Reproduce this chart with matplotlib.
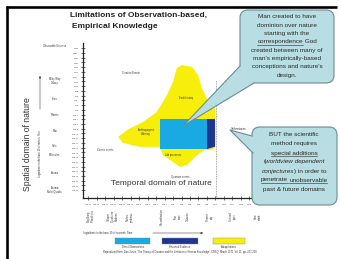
import numpy as np
import matplotlib
matplotlib.use("Agg")
import matplotlib.pyplot as plt
from matplotlib.patches import Polygon, Rectangle, FancyBboxPatch
from matplotlib.transforms import blended_transform_factory

plt.rcParams['font.family'] = ['Liberation Sans', 'DejaVu Sans']

# ---- data (log10 seconds on x, log10 metres on y) ----
x_ticks = list(range(-20, 21, 2))
y_ticks = list(range(-34, 27, 2))

yellow_x = [2.1, 4.5, 5.9, 6.8, 8.7, 9.9, 9.9, 8.7, 7.5, 5.7, 3.3, 1.7, 0.0,
            -2.4, -3.1, -7.8, -11.8, -12.9, -10.8, -7.1, -3.8, -1.4, 0.0, 0.9]
yellow_y = [18.9, 18.1, 14.7, 9.2, 2.0, 0.8, -16.2, -17.0, -17.0, -19.1, -23.3, -24.2, -22.1,
            -19.1, -15.7, -15.7, -14.0, -11.5, -8.5, -5.2, -0.9, 6.3, 11.8, 17.7]
direct_x = [-3.1, 8.0]
direct_y = [-16.6, -3.9]
hist_x = [8.0, 9.9, 9.9, 8.0]
hist_y = [-3.9, -3.9, -15.6, -16.6]
present_x = 10.1
present_top = 12.6

size_labels = ["Observable Universe", "Milky Way\nGalaxy", "Stars", "Planets", "Man",
               "Cells", "Molecules", "Atoms", "Atomic\nNuclei/Quarks"]
size_pos = [27.0, 12.2, 4.6, -2.2, -9.0, -15.3, -19.1, -26.7, -33.9]

time_labels = ["Big Bang\nPlanck era", "Inflation\nQuark era\nHadrons", "Nucleo-\nsynthesis",
               "Recombination", "First\nstars", "Galaxies", "Present\nday",
               "Sun red\ngiant", "Heat\ndeath"]
time_pos = [-19.2, -14.1, -10.1, -2.6, 1.2, 3.5, 8.7, 14.1, 20.0]

region_labels = ["Creation Events", "Earth history", "Anthropogenic\nWarming", "Cosmic events",
                 "Lab processes", "Quantum events", "Uniformitarian"]
region_x = [-9.9, 3.1, -6.4, -16.0, 0.0, 1.6, 15.3]
region_y = [15.6, 5.0, -9.4, -17.0, -19.1, -28.5, -8.1]

legend_labels = ["Direct Observations", "Historical Evidence", "Extrapolations"]
colors = ["#19a9e3", "#1f3590", "#f7ee0a"]

callout1 = [[("Man created to have", "n")],
            [("dominion over nature", "n")],
            [("starting with the", "n")],
            [("correspondence", "u"), (" God", "n")],
            [("created between many of", "n")],
            [("man's empirically-based", "n")],
            [("conceptions and nature's", "n")],
            [("design.", "n")]]
callout2 = [[("BUT the scientific", "n")],
            [("method requires", "n")],
            [("special additions", "u")],
            [("(", "n"), ("worldview dependent", "i")],
            [("conjectures", "i"), (") in order to", "n")],
            [("penetrate", "u"), (" ", "n"), ("unobservable", "u")],
            [("past & future domains", "n")]]

# ---- figure ----
fig = plt.figure(figsize=(3.4, 2.59), dpi=100)
fig.patch.set_facecolor("white")

W, H = 340.0, 259.0
ax = fig.add_axes([83 / W, 1 - 198 / H, 182 / W, 155 / H])
ax.set_xlim(-21.18, 21.65)
ax.set_ylim(-37.3, 28.24)
ax.set_facecolor("none")
for s in ["top", "right"]:
    ax.spines[s].set_visible(False)
for s in ["left", "bottom"]:
    ax.spines[s].set_linewidth(0.9)
    ax.spines[s].set_color("#222222")
ax.set_xticks(x_ticks)
ax.set_yticks(y_ticks)
ax.set_xticklabels(["$10^{%d}$" % v for v in x_ticks])
ax.set_yticklabels(["$10^{%d}$" % v for v in y_ticks])
ax.tick_params(direction="inout", length=3, width=0.5, labelsize=1.6, pad=1.2,
               colors="#333333")

ax.add_patch(Polygon(np.column_stack([yellow_x, yellow_y]), closed=True,
                     facecolor=colors[2], edgecolor="none", zorder=1))
ax.add_patch(Rectangle((direct_x[0], direct_y[0]), direct_x[1] - direct_x[0],
                       direct_y[1] - direct_y[0], facecolor=colors[0], edgecolor="none", zorder=2))
ax.add_patch(Polygon(np.column_stack([hist_x, hist_y]), closed=True,
                     facecolor=colors[1], edgecolor="none", zorder=2))
ax.plot([present_x, present_x], [ax.get_ylim()[0], present_top], color="#888888",
        lw=0.6, ls=(0, (1, 1)), zorder=3)

for lab, x, y in zip(region_labels, region_x, region_y):
    ax.text(x, y, lab, fontsize=1.8, ha="center", va="center", color="#333333", zorder=4)

tr_y = blended_transform_factory(ax.transAxes, ax.transData)
for lab, y in zip(size_labels, size_pos):
    ax.text(-0.155, y, lab, transform=tr_y, fontsize=1.8, ha="center", va="center",
            color="#333333", clip_on=False)

tr_x = blended_transform_factory(ax.transData, ax.transAxes)
for lab, x in zip(time_labels, time_pos):
    ax.text(x, -0.12, lab, transform=tr_x, fontsize=1.8, ha="center", va="center",
            rotation=90, color="#333333", clip_on=False, linespacing=1.0)

ax.text(0.43, 0.095, "Temporal domain of nature", transform=ax.transAxes, fontsize=6.0,
        ha="center", va="center", color="#333333")

# ---- overlay in pixel units ----
deco = fig.add_axes([0, 0, 1, 1])
deco.set_xlim(0, W)
deco.set_ylim(H, 0)
deco.axis("off")
deco.set_zorder(5)

deco.plot([6.5, 6.5], [5.5, H], color="black", lw=1.9, solid_capstyle="butt")
deco.plot([5.5, 337], [6.5, 6.5], color="black", lw=1.9, solid_capstyle="butt")

deco.text(70, 15, "Limitations of Observation-based,", fontsize=6.0, fontweight="bold",
          ha="left", va="center", color="#222222")
deco.text(72, 26.5, "Empirical Knowledge", fontsize=6.0, fontweight="bold",
          ha="left", va="center", color="#222222")

deco.text(28, 144, "Spatial domain of nature", fontsize=6.2, rotation=90,
          ha="center", va="center", color="#333333")
deco.text(40, 154, "Logarithmic in the base 10 of meters. Size", fontsize=1.8, rotation=90,
          ha="center", va="center", color="#333333")
deco.annotate("", xy=(40, 73), xytext=(40, 112),
              arrowprops=dict(arrowstyle="-|>", lw=0.4, color="#444444", mutation_scale=3))
deco.text(83, 233, "Logarithmic in the base 10 of seconds. Time", fontsize=1.8,
          ha="left", va="center", color="#333333")
deco.annotate("", xy=(206, 233), xytext=(150, 233),
              arrowprops=dict(arrowstyle="-|>", lw=0.4, color="#444444", mutation_scale=3))

# legend
leg_x = [115, 162, 213]
leg_w = [35, 36, 32]
for x0, w, c, lab in zip(leg_x, leg_w, colors, legend_labels):
    deco.add_patch(Rectangle((x0, 238), w, 5.5, facecolor=c, edgecolor="#888888", lw=0.3))
    deco.text(x0 + w / 2, 247, lab, fontsize=1.8, ha="center", va="center", color="#333333")
deco.text(180, 252.5, "Reproduced from: Dan Jones, 'The Theory of Creation and the Limitation "
          "of Human Knowledge', CRSQ, March 1975, Vol 11, pp. 207-209",
          fontsize=1.8, ha="center", va="center", color="#333333")

# callouts
fill_c = "#b8dde2"
edge_c = "#6d8c90"
renderer = fig.canvas.get_renderer()


def seg_width(s, **kw):
    t1 = deco.text(0, 0, "x" + s + "x", **kw)
    t2 = deco.text(0, 0, "xx", **kw)
    w = t1.get_window_extent(renderer).width - t2.get_window_extent(renderer).width
    t1.remove()
    t2.remove()
    return w


def rich_lines(lines, cx, y0, dy, fs):
    for i, line in enumerate(lines):
        y = y0 + i * dy
        kws = []
        for txt, st in line:
            kw = dict(fontsize=fs, color="#2a2a2a")
            if st == "i":
                kw["fontstyle"] = "italic"
            kws.append(kw)
        ws = [seg_width(txt, **kw) for (txt, st), kw in zip(line, kws)]
        x = cx - sum(ws) / 2
        for (txt, st), kw, w in zip(line, kws, ws):
            deco.text(x, y, txt, ha="left", va="center", zorder=6, **kw)
            if st == "u":
                deco.plot([x, x + w], [y + 2.8, y + 2.8], color="#2a2a2a", lw=0.4, zorder=6)
            x += w


def callout(x0, y0, w, h, tip, b1, b2, inner):
    deco.add_patch(FancyBboxPatch((x0 + 4, y0 + 4), w - 8, h - 8,
                                  boxstyle="round,pad=4,rounding_size=8",
                                  facecolor=fill_c, edgecolor=edge_c, lw=0.8, zorder=3))
    deco.add_patch(Polygon([b1, tip, b2, inner], closed=True, facecolor=fill_c,
                           edgecolor="none", zorder=4))
    deco.plot([b1[0], tip[0], b2[0]], [b1[1], tip[1], b2[1]], color=edge_c, lw=0.8, zorder=4)


callout(240, 10, 94, 73, (183, 126), (240, 66), (254, 83), (252, 72))
rich_lines(callout1, 287, 17, 8.3, 4.6)
callout(252, 127, 85, 78, (230, 130), (252, 136), (253, 153), (262, 145))
rich_lines(callout2, 294, 135, 9.0, 4.6)

fig.savefig("out.png", dpi=100, facecolor="white")
